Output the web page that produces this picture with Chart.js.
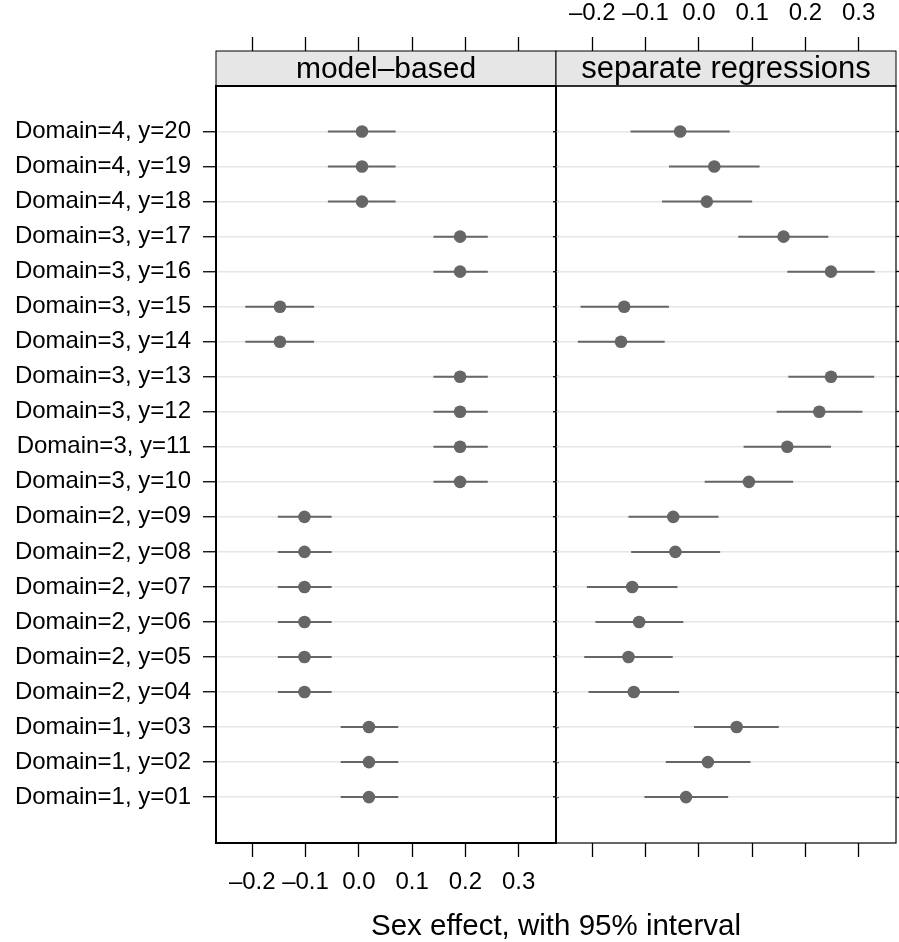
<!DOCTYPE html>
<html>
<head>
<meta charset="utf-8">
<script src="https://cdn.jsdelivr.net/npm/chart.js@4.4.1/dist/chart.umd.min.js"></script>
<style>
  body { margin: 0; background: #fff; }
  #wrap { position: relative; width: 899px; height: 942px; overflow: hidden; }
  #wrap canvas { position: absolute; left: 0; top: 0; }
  #xlab { position: absolute; left: 216px; width: 680px; top: 908px; line-height: 34px;
          text-align: center; font: 29.5px "Liberation Sans", Arial, sans-serif; color: #000; }
</style>
</head>
<body>
<div id="wrap">
  <canvas id="left" width="899" height="942"></canvas>
  <canvas id="right" width="899" height="942"></canvas>
  <div id="xlab">Sex effect, with 95% interval</div>
</div>
<script>
// rows, bottom (y=01) to top (y=20)
const rows = [1,2,3,4,5,6,7,8,9,10,11,12,13,14,15,16,17,18,19,20];
const rowLabels = [
  'Domain=1, y=01','Domain=1, y=02','Domain=1, y=03',
  'Domain=2, y=04','Domain=2, y=05','Domain=2, y=06','Domain=2, y=07','Domain=2, y=08','Domain=2, y=09',
  'Domain=3, y=10','Domain=3, y=11','Domain=3, y=12','Domain=3, y=13','Domain=3, y=14','Domain=3, y=15',
  'Domain=3, y=16','Domain=3, y=17',
  'Domain=4, y=18','Domain=4, y=19','Domain=4, y=20'
];
const xTicks = [-0.2, -0.1, 0.0, 0.1, 0.2, 0.3];

// model-based
const modelEst = [0.019,0.019,0.019, -0.102,-0.102,-0.102,-0.102,-0.102,-0.102,
  0.190,0.190,0.190,0.190,-0.148,-0.148,0.190,0.190, 0.006,0.006,0.006];
const modelLo = [-0.034,-0.034,-0.034, -0.152,-0.152,-0.152,-0.152,-0.152,-0.152,
  0.140,0.140,0.140,0.140,-0.213,-0.213,0.140,0.140, -0.058,-0.058,-0.058];
const modelHi = [0.074,0.074,0.074, -0.051,-0.051,-0.051,-0.051,-0.051,-0.051,
  0.242,0.242,0.242,0.242,-0.084,-0.084,0.242,0.242, 0.069,0.069,0.069];

// separate regressions
const sepEst = [-0.024,0.017,0.071, -0.122,-0.132,-0.112,-0.125,-0.044,-0.048,
  0.094,0.166,0.226,0.248,-0.146,-0.140,0.248,0.159, 0.015,0.029,-0.035];
const sepLo = [-0.102,-0.062,-0.009, -0.207,-0.215,-0.194,-0.210,-0.127,-0.132,
  0.011,0.084,0.146,0.168,-0.227,-0.222,0.166,0.074, -0.069,-0.056,-0.128];
const sepHi = [0.055,0.097,0.150, -0.037,-0.049,-0.029,-0.040,0.040,0.037,
  0.177,0.248,0.307,0.329,-0.064,-0.056,0.330,0.243, 0.100,0.114,0.058];

const FONT = '"Liberation Sans", Arial, sans-serif';
Chart.defaults.font.family = FONT;
Chart.defaults.color = '#000';
const DOT = '#666666';
const tickFont = { size: 24 };
const fmt = v => (v < 0 ? '\u2013' : '') + Math.abs(v).toFixed(1);

const panelFrame = {
  id: 'panelFrame',
  afterDraw(chart, args, o) {
    const { ctx, chartArea: a } = chart;
    ctx.save();
    ctx.fillStyle = '#e6e6e6';
    ctx.fillRect(a.left, a.top - o.stripH, a.right - a.left, o.stripH);
    ctx.strokeStyle = '#000';
    ctx.lineWidth = 1;
    ctx.strokeRect(a.left, a.top - o.stripH, a.right - a.left, o.stripH);
    ctx.fillStyle = '#000';
    ctx.font = o.stripFont + 'px ' + FONT;
    ctx.textAlign = 'center';
    ctx.textBaseline = 'middle';
    ctx.fillText(o.title, (a.left + a.right) / 2, a.top - o.stripH / 2 + 1);
    ctx.lineWidth = o.frameW;
    ctx.strokeRect(a.left, a.top, a.right - a.left, a.bottom - a.top);
    ctx.restore();
  }
};

function segs(lo, hi) {
  const out = [];
  rows.forEach((r, i) => {
    out.push({ x: lo[i], y: r }, { x: hi[i], y: r }, { x: hi[i], y: null });
  });
  return out;
}

function makePanel(id, title, est, lo, hi, left) {
  const xAxis = (pos, labels, tl) => ({
    type: 'linear', position: pos, min: -0.268, max: 0.37,
    afterBuildTicks: s => { s.ticks = xTicks.map(v => ({ value: v })); },
    afterFit: s => { s.height = pos === 'top' ? 86 : 99; s.paddingLeft = 0; s.paddingRight = 0; },
    border: { display: false },
    grid: { drawOnChartArea: false, tickLength: tl, tickColor: '#000', tickWidth: 1.3 },
    ticks: { display: labels, font: tickFont, padding: pos === 'top' ? 9 : 11,
             maxRotation: 0, minRotation: 0, callback: v => fmt(v) }
  });
  const yBase = {
    type: 'linear', min: -0.31, max: 21.3,
    afterBuildTicks: s => { s.ticks = rows.map(v => ({ value: v })); },
    border: { display: false }
  };
  return new Chart(document.getElementById(id), {
    type: 'scatter',
    data: {
      datasets: [
        { data: rows.map((r, i) => ({ x: est[i], y: r })), pointRadius: 6.3,
          pointBackgroundColor: DOT, pointBorderWidth: 0, showLine: false },
        { data: segs(lo, hi), showLine: true, spanGaps: false, borderColor: DOT,
          borderWidth: 2, pointRadius: 0 }
      ]
    },
    options: {
      responsive: false, animation: false,
      layout: { autoPadding: false,
                padding: left ? { left: 0, right: 343, top: 0, bottom: 0 }
                              : { left: 556, right: 0, top: 0, bottom: 0 } },
      plugins: { legend: { display: false }, tooltip: { enabled: false },
                 panelFrame: { title: title, stripH: 35, stripFont: left ? 30 : 31,
                               frameW: left ? 2 : 1.2 } },
      scales: {
        x: xAxis('bottom', left, 14),
        xTop: xAxis('top', !left, 49),
        y: Object.assign({}, yBase, {
          position: 'left',
          afterFit: s => { s.width = left ? 216 : 0; },
          grid: { color: '#e6e6e6', lineWidth: 1.5, tickLength: left ? 13 : 3, tickColor: '#000', tickWidth: 1.3 },
          ticks: { display: left, autoSkip: false, font: tickFont, padding: 12,
                   callback: v => rowLabels[v - 1] }
        }),
        y2: Object.assign({}, yBase, {
          position: 'right',
          afterFit: s => { s.width = left ? 0 : 3; },
          grid: { drawOnChartArea: false, tickLength: left ? 3 : 6, tickColor: '#000', tickWidth: 1.3 },
          ticks: { display: false }
        })
      }
    },
    plugins: [panelFrame]
  });
}

makePanel('left', 'model\u2013based', modelEst, modelLo, modelHi, true);
makePanel('right', 'separate regressions', sepEst, sepLo, sepHi, false);
</script>
</body>
</html>
